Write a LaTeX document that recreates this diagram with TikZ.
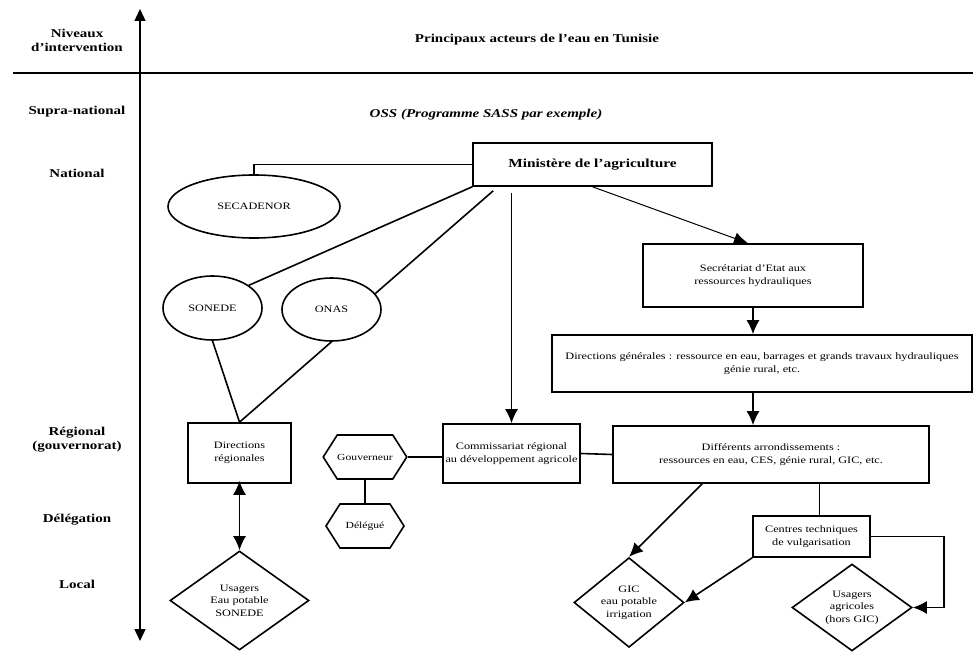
\documentclass[tikz,border=0pt]{standalone}
\usepackage{fontspec}
\setmainfont[FakeStretch=1.25]{Liberation Serif}
\usetikzlibrary{positioning}
\usetikzlibrary{shapes.geometric,shapes.symbols}
\usetikzlibrary{arrows.meta}
\tikzset{niveau/.style={font=\fontsize{12}{14}\selectfont\bfseries, align=center}}
\tikzset{boite/.style={draw, line width=1.6pt, align=center, inner sep=1pt, font=\fontsize{9.8}{12.5}\selectfont}}
\tikzset{ovale/.style={boite, ellipse}}
\tikzset{hexa/.style={boite, signal, signal to=east and west, signal pointer angle=115, inner xsep=0pt, font=\fontsize{9.3}{12}\selectfont}}
\tikzset{losange/.style={boite, diamond, inner sep=0pt}}
\tikzset{lien/.style={line width=1.6pt}}
\tikzset{fleche/.style={lien, -{Latex[length=14pt,width=13pt]}}}
\begin{document}
\begin{tikzpicture}[x=1pt,y=-1pt]
\useasboundingbox (0,0) rectangle (973,652);
% niveaux
\node[niveau] (tniv) at (77,40) {Niveaux\\d'intervention};
\node[niveau] (titre) at (537,40) {Principaux acteurs de l'eau en Tunisie};
\node[niveau] (supra) at (77,112) {Supra-national};
\node[niveau, font=\fontsize{12}{14}\selectfont\bfseries\itshape] (oss) at (486,115) {OSS (Programme SASS par exemple)};
\node[niveau] (nat) at (77,173) {National};
\node[niveau] (reg) at (77,440) {Régional\\(gouvernorat)};
\node[niveau] (delegniv) at (77,520) {Délégation};
\node[niveau] (loc) at (77,584) {Local};
\coordinate (axehaut) at (140,9);
\coordinate (axebas) at (140,641);
\coordinate (traitg) at (13,73);
\coordinate (traitd) at (973,73);
\draw[line width=1.4pt, {Triangle[length=12pt,width=11pt]}-{Triangle[length=12pt,width=11pt]}] (axebas) -- (axehaut);
\draw[line width=1.4pt] (traitg) -- (traitd);
% acteurs
\node[boite, minimum width=239pt, minimum height=43pt, font=\fontsize{12.3}{14}\selectfont\bfseries] (min) at (592.5,164.5) {Ministère de l'agriculture};
\node[ovale, minimum width=172pt, minimum height=63pt] (secad) at (254,206.5) {SECADENOR};
\node[ovale, minimum width=99pt, minimum height=64pt] (sonede) at (212.5,308) {SONEDE};
\node[ovale, minimum width=99pt, minimum height=63pt] (onas) at (331.5,309.5) {ONAS};
\node[boite, minimum width=220pt, minimum height=63pt] (secr) at (753,275.5) {Secrétariat d'Etat aux\\ressources hydrauliques};
\node[boite, minimum width=420pt, minimum height=57pt] (dirgen) at (762,363.5) {Directions générales : ressource en eau, barrages et grands travaux hydrauliques\\génie rural, etc.};
\node[boite, minimum width=316pt, minimum height=57pt] (arrond) at (771,454.5) {Différents arrondissements :\\ressources en eau, CES, génie rural, GIC, etc.};
\node[boite, minimum width=137pt, minimum height=59pt] (commis) at (511.5,453.5) {Commissariat régional\\au développement agricole};
\node[boite, minimum width=103pt, minimum height=60pt] (dirreg) at (239.5,453) {Directions\\régionales};
\node[hexa, minimum width=78pt, minimum height=44pt] (gouv) at (365,457) {Gouverneur};
\node[hexa, minimum width=78pt, minimum height=44pt] (deleg) at (365,526) {Délégué};
\node[losange, minimum width=139pt, minimum height=99pt] (usag) at (239.5,600.5) {Usagers\\Eau potable\\SONEDE};
\node[boite, minimum width=117pt, minimum height=41pt] (centres) at (811.5,536.5) {Centres techniques\\de vulgarisation};
\node[losange, minimum width=110pt, minimum height=83pt] (gic) at (629,602.5) {GIC\\eau potable\\irrigation};
\node[losange, minimum width=120pt, minimum height=81pt] (usagagr) at (852,607.5) {Usagers\\agricoles\\(hors GIC)};
% liens
\draw[lien] (min.west) -| (secad.north);
\draw[lien] (min.south west) -- (sonede.32);
\draw[lien] ([xshift=21pt,yshift=-4pt]min.south west) -- (onas.20);
\draw[fleche] ([yshift=-6pt]commis.north |- min.south) -- (commis.north);
\draw[line width=1pt, -{Latex[length=14pt,width=12pt]}] (min.south) -- ([xshift=-5pt]secr.north);
\draw[fleche] (secr.south) -- (secr.south |- dirgen.north);
\draw[fleche] (secr.south |- dirgen.south) -- (secr.south |- arrond.north);
\draw[lien] (commis.east) -- (arrond.west);
\draw[lien] (gouv.east) -- (gouv.east -| commis.west);
\draw[lien] (gouv.south) -- (deleg.north);
\draw[lien] (sonede.south) -- (dirreg.north);
\draw[lien] (onas.south) -- (dirreg.north);
\draw[lien, {Latex[length=14pt,width=13pt]}-{Latex[length=14pt,width=13pt]}] ([yshift=3pt]dirreg.south) -- (usag.north);
\draw[fleche] ([xshift=90pt]arrond.south west) -- (gic.north);
\draw[lien] ([xshift=8pt]centres.north) -- ([xshift=8pt]centres.north |- arrond.south);
\draw[fleche] (centres.south west) -- (gic.east);
\draw[fleche] (centres.east) -- ++(73,0) |- (usagagr.east);
\end{tikzpicture}
\end{document}
